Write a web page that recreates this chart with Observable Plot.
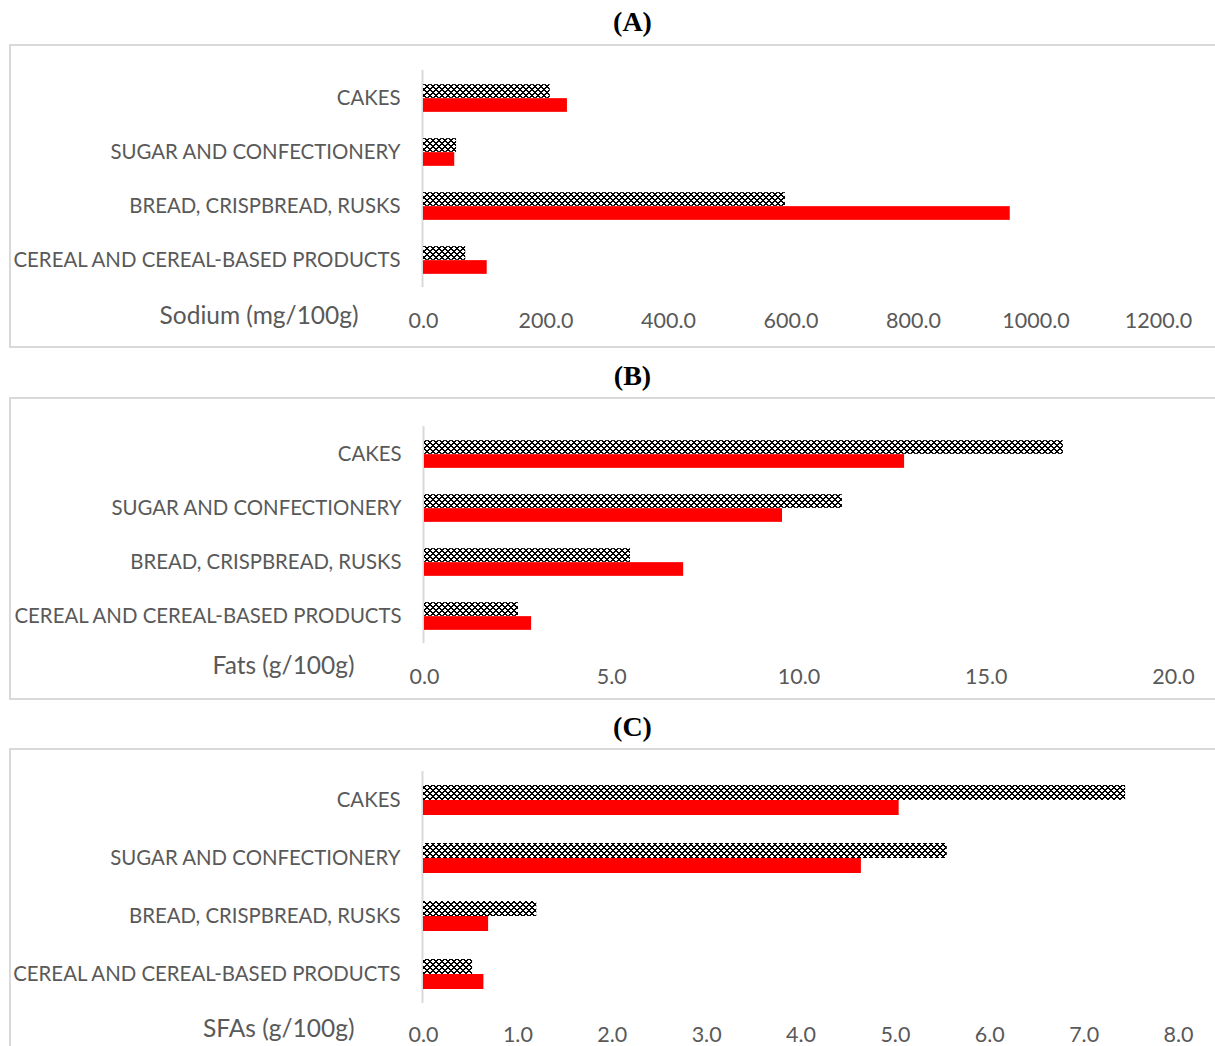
<!DOCTYPE html>
<html>
<head>
<meta charset="utf-8">
<script src="https://cdn.jsdelivr.net/npm/d3@7"></script>
<script src="https://cdn.jsdelivr.net/npm/@observablehq/plot@0.6"></script>
<style>
  html, body { margin: 0; padding: 0; background: #fff; overflow: hidden; }
  #page { position: relative; width: 1215px; height: 1046px; overflow: hidden; }
  .title {
    position: absolute; left: 0; width: 1265px; text-align: center;
    font-family: "Liberation Serif", "DejaVu Serif", serif; font-weight: bold;
    font-size: 28px; line-height: 30px; color: #000;
  }
  .box {
    position: absolute; left: 9px; width: 1240px; box-sizing: border-box;
    border: 2px solid #d9d9d9; background: #fff;
  }
  .chart { position: absolute; left: 0; }
  .chart svg { overflow: visible; }
</style>
</head>
<body>
<div id="page"></div>
<script>
// Food categories, listed top to bottom
const categories = [
  "CAKES",
  "SUGAR AND CONFECTIONERY",
  "BREAD, CRISPBREAD, RUSKS",
  "CEREAL AND CEREAL-BASED PRODUCTS"
];

// (A) Sodium, mg/100g
const sodiumPatterned = [207, 54, 591, 69];
const sodiumRed = [235, 51, 958, 104];
const sodiumTicks = [0, 200, 400, 600, 800, 1000, 1200];

// (B) Fats, g/100g
const fatsPatterned = [17.06, 11.16, 5.5, 2.51];
const fatsRed = [12.82, 9.56, 6.92, 2.86];
const fatsTicks = [0, 5, 10, 15, 20];

// (C) Saturated fatty acids, g/100g
const sfaPatterned = [7.44, 5.55, 1.2, 0.52];
const sfaRed = [5.04, 4.64, 0.69, 0.64];
const sfaTicks = [0, 1, 2, 3, 4, 5, 6, 7, 8];

const panelTitles = ["(A)", "(B)", "(C)"];
const axisLabels = ["Sodium (mg/100g)", "Fats (g/100g)", "SFAs (g/100g)"];

const page = document.getElementById("page");
const GRAY = "#595959";
const FONT = "Lato, 'Open Sans', sans-serif";

// Diagonal cross-hatch tile: black crossing bands leave small white diamonds
function addPattern(svg, id) {
  const ns = "http://www.w3.org/2000/svg";
  const defs = document.createElementNS(ns, "defs");
  const pat = document.createElementNS(ns, "pattern");
  pat.setAttribute("id", id);
  pat.setAttribute("patternUnits", "userSpaceOnUse");
  pat.setAttribute("width", 6);
  pat.setAttribute("height", 6);
  const bg = document.createElementNS(ns, "rect");
  bg.setAttribute("width", 6); bg.setAttribute("height", 6); bg.setAttribute("fill", "#fff");
  pat.appendChild(bg);
  let d = "";
  for (let y = 0; y < 6; y++) {
    for (let x = 0; x < 6; x++) {
      const a = (x + y) % 6, b = (x - y + 6) % 6;
      if (a === 0 || b === 0 || ((a === 1 || b === 1) && (x + y) % 2 === 1)) d += `M${x},${y}h1v1h-1z`;
    }
  }
  const p = document.createElementNS(ns, "path");
  p.setAttribute("d", d); p.setAttribute("fill", "#000");
  p.setAttribute("shape-rendering", "crispEdges");
  pat.appendChild(p);
  defs.appendChild(pat);
  svg.insertBefore(defs, svg.firstChild);
}

function panel(cfg) {
  const rows = categories.map((c, i) => ({cat: c, a: cfg.patterned[i], b: cfg.red[i]}));
  const half = cfg.band / 2;
  const barH = cfg.barH;
  const plot = Plot.plot({
    width: 1215,
    height: cfg.marginTop + 4 * cfg.band + cfg.marginBottom,
    marginLeft: cfg.marginLeft,
    marginRight: cfg.marginRight,
    marginTop: cfg.marginTop,
    marginBottom: cfg.marginBottom,
    style: {fontFamily: FONT, fontSize: "20px", color: GRAY, background: "transparent"},
    x: {domain: [cfg.ticks[0], cfg.ticks[cfg.ticks.length - 1]]},
    y: {domain: categories, padding: 0},
    marks: [
      Plot.axisY({tickSize: 0, tickPadding: cfg.yPad, label: null, fontSize: 20.4, fill: GRAY}),
      Plot.axisX({ticks: cfg.ticks, tickFormat: d3.format(".1f"), tickSize: 0,
                  tickPadding: cfg.xPad, label: null, fontSize: 21.5, fill: GRAY}),
      Plot.ruleX([0], {stroke: "#d9d9d9", strokeWidth: 2, dx: -1}),
      Plot.barX(rows, {x: "a", y: "cat", fill: `url(#${cfg.id})`,
                       insetTop: half - barH, insetBottom: half}),
      Plot.barX(rows, {x: "b", y: "cat", fill: "#ff0000",
                       insetTop: half, insetBottom: half - barH}),
      Plot.text([cfg.label], {text: d => d, frameAnchor: "bottom-left", textAnchor: "end",
                              lineAnchor: "bottom", dx: cfg.labelDx, dy: cfg.labelDy,
                              fontSize: 24.5, fill: GRAY})
    ]
  });
  addPattern(plot, cfg.id);

  const title = document.createElement("div");
  title.className = "title";
  title.textContent = cfg.title;
  title.style.top = (cfg.titleY - 15) + "px";
  page.appendChild(title);

  const box = document.createElement("div");
  box.className = "box";
  box.style.top = cfg.boxTop + "px";
  box.style.height = cfg.boxHeight + "px";
  page.appendChild(box);

  const wrap = document.createElement("div");
  wrap.className = "chart";
  wrap.style.top = cfg.boxTop + "px";
  wrap.appendChild(plot);
  page.appendChild(wrap);
}

panel({id: "patA", title: panelTitles[0], titleY: 22, boxTop: 44, boxHeight: 304,
       patterned: sodiumPatterned, red: sodiumRed, ticks: sodiumTicks, label: axisLabels[0],
       marginLeft: 423, marginRight: 57, marginTop: 26, marginBottom: 60, band: 54.3, barH: 14,
       yPad: 23, xPad: 25, labelDx: -65, labelDy: 36});

panel({id: "patB", title: panelTitles[1], titleY: 376, boxTop: 397, boxHeight: 303,
       patterned: fatsPatterned, red: fatsRed, ticks: fatsTicks, label: axisLabels[1],
       marginLeft: 424, marginRight: 42, marginTop: 29, marginBottom: 56, band: 54.3, barH: 14,
       yPad: 23, xPad: 25, labelDx: -70, labelDy: 30});

panel({id: "patC", title: panelTitles[2], titleY: 727, boxTop: 748, boxHeight: 320,
       patterned: sfaPatterned, red: sfaRed, ticks: sfaTicks, label: axisLabels[2],
       marginLeft: 423, marginRight: 37, marginTop: 23, marginBottom: 43, band: 58, barH: 15,
       yPad: 23, xPad: 23, labelDx: -69, labelDy: 33});
</script>
</body>
</html>
